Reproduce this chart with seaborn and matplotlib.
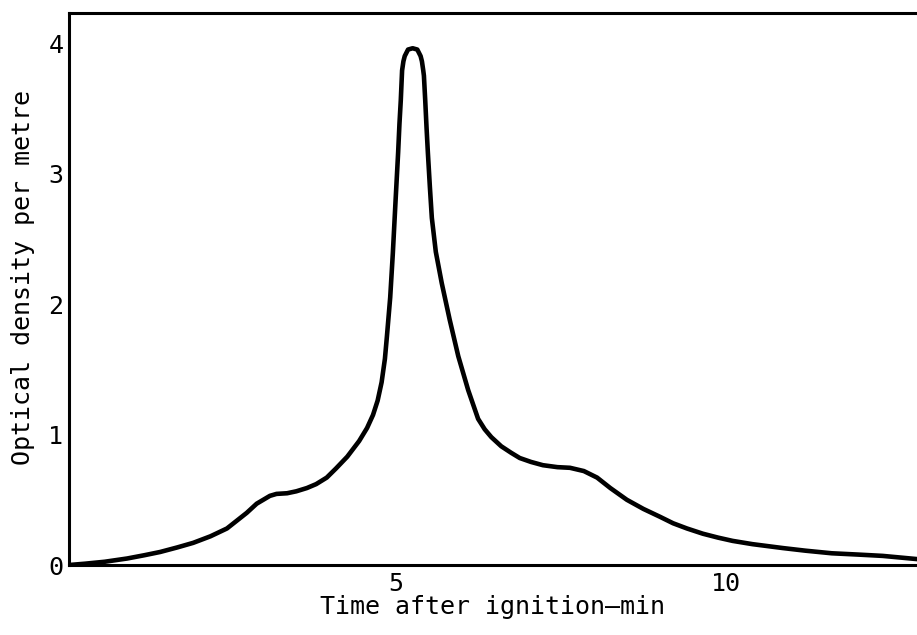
import matplotlib
matplotlib.use("Agg")
import matplotlib.pyplot as plt
import numpy as np
import pandas as pd
import seaborn as sns

# ---- data ----
time_min = [0.06, 0.3, 0.6, 0.94, 1.2, 1.44, 1.7, 1.94, 2.2, 2.45, 2.6, 2.75,
            2.9, 3.0, 3.1, 3.2, 3.36, 3.5, 3.66, 3.8, 3.96, 4.1, 4.27, 4.45,
            4.57, 4.66, 4.73, 4.79, 4.84, 4.87, 4.92, 4.96, 5.00, 5.04, 5.06,
            5.08, 5.10, 5.12, 5.14, 5.19, 5.26, 5.33, 5.38, 5.40, 5.42, 5.43,
            5.45, 5.47, 5.49, 5.52, 5.55, 5.61, 5.70, 5.82, 5.95, 6.10, 6.25,
            6.35, 6.45, 6.6, 6.75, 6.88, 7.05, 7.23, 7.45, 7.64, 7.85, 8.05,
            8.25, 8.5, 8.75, 9.0, 9.2, 9.41, 9.65, 9.88, 10.1, 10.4, 10.86,
            11.2, 11.6, 12.0, 12.37, 12.9]
optical_density = [0.0, 0.01, 0.025, 0.05, 0.075, 0.10, 0.135, 0.17, 0.22,
                   0.28, 0.34, 0.40, 0.47, 0.50, 0.53, 0.545, 0.55, 0.565,
                   0.59, 0.62, 0.67, 0.74, 0.83, 0.95, 1.05, 1.15, 1.26, 1.40,
                   1.58, 1.75, 2.05, 2.39, 2.78, 3.16, 3.38, 3.56, 3.79, 3.86,
                   3.90, 3.95, 3.96, 3.95, 3.90, 3.86, 3.79, 3.75, 3.56, 3.35,
                   3.16, 2.90, 2.66, 2.40, 2.16, 1.88, 1.60, 1.34, 1.12, 1.04,
                   0.98, 0.91, 0.86, 0.82, 0.79, 0.765, 0.75, 0.745, 0.72, 0.67,
                   0.59, 0.50, 0.43, 0.37, 0.32, 0.28, 0.24, 0.21, 0.185, 0.16,
                   0.13, 0.11, 0.09, 0.08, 0.07, 0.045]
x_ticks = [5, 10]
y_ticks = [0, 1, 2, 3, 4]
x_label = "Time after ignition\u2013min"
y_label = "Optical density per metre"

df = pd.DataFrame({"t": time_min, "od": optical_density})

sns.set_style("white")
plt.rcParams["font.family"] = ["DejaVu Sans Mono", "DejaVu Sans"]

fig = plt.figure(figsize=(9.17, 6.35), dpi=100)
ax = fig.add_axes([0.0752, 0.1102, 0.9248, 0.8693])

sns.lineplot(data=df, x="t", y="od", sort=False, estimator=None,
             color="black", linewidth=3.3, ax=ax)
for ln in ax.get_lines():
    ln.set_solid_capstyle("round")
    ln.set_solid_joinstyle("round")

ax.set_xlim(0.06, 12.89)
ax.set_ylim(0, 4.23)
ax.set_xticks(x_ticks)
ax.set_yticks(y_ticks)
ax.set_xticklabels([str(v) for v in x_ticks])
ax.set_yticklabels([str(v) for v in y_ticks])

ax.tick_params(axis="both", direction="in", length=8, width=1.6,
               labelsize=18, colors="black")
ax.tick_params(axis="x", pad=5)
ax.tick_params(axis="y", pad=4)

for side in ["left", "bottom", "top"]:
    ax.spines[side].set_visible(True)
    ax.spines[side].set_color("black")
    ax.spines[side].set_linewidth(2.2)
ax.spines["right"].set_visible(False)

ax.set_xlabel(x_label, fontsize=18, color="black")
ax.set_ylabel(y_label, fontsize=18, color="black")
ax.xaxis.set_label_coords(0.5, -0.054)
ax.xaxis.label.set_va("top")
ax.yaxis.set_label_coords(-0.040, 0.52)

fig.savefig("out.png", dpi=100, facecolor="white")
